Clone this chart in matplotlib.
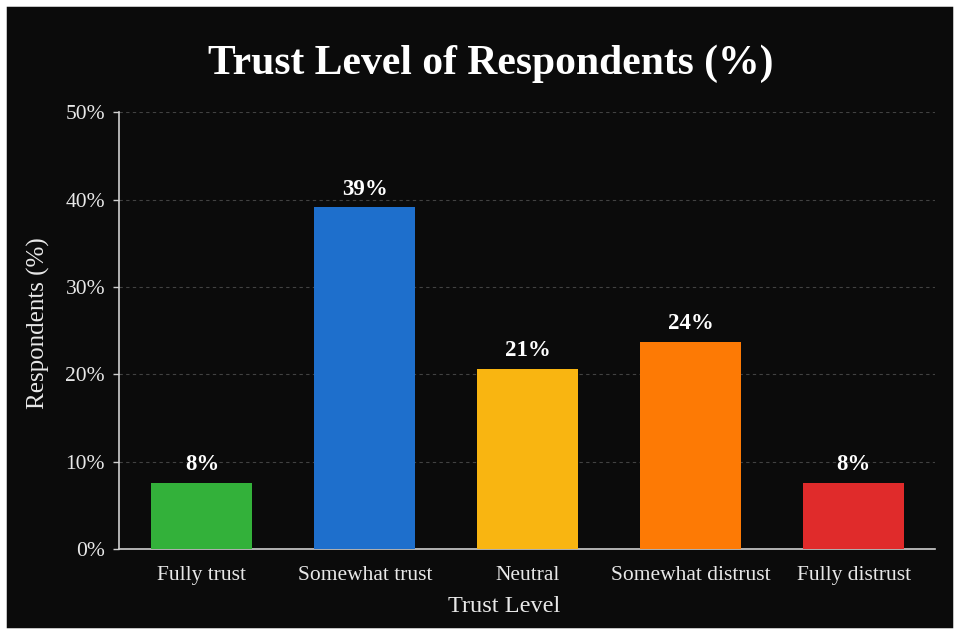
import matplotlib
matplotlib.use("Agg")
import matplotlib.pyplot as plt
from matplotlib.patches import Rectangle

# data
categories = ["Fully trust", "Somewhat trust", "Neutral", "Somewhat distrust", "Fully distrust"]
values = [7.6, 39.1, 20.6, 23.7, 7.6]
colors = ["#33b13a", "#1e6fcc", "#f9b511", "#fd7a05", "#e02b2b"]
yticks = [0, 10, 20, 30, 40, 50]

BG = "#0b0b0b"
FG = "#e8e8e8"
FONT = ["Liberation Serif", "DejaVu Serif"]

plt.rcParams["font.family"] = FONT

fig = plt.figure(figsize=(9.59, 6.34), dpi=100, facecolor=BG)
# thin white frame round the dark panel
fig.patches.append(Rectangle((0, 0), 1, 1, transform=fig.transFigure,
                             fill=False, edgecolor="white", linewidth=9,
                             zorder=10))

ax = fig.add_axes([0.124, 0.134, 0.851, 0.689])
ax.set_facecolor(BG)

x = list(range(len(categories)))
bars = ax.bar(x, values, width=0.62, color=colors, zorder=3)
for b, v in zip(bars, values):
    ax.text(b.get_x() + b.get_width() / 2, v + 0.9, f"{v:.0f}%",
            ha="center", va="bottom", color="white", fontsize=16.5,
            fontweight="bold", zorder=4)

ax.set_xlim(-0.51, 4.5)
ax.set_ylim(0, 50)
ax.set_yticks(yticks)
ax.set_yticklabels([f"{t}%" for t in yticks])
ax.set_xticks(x)
ax.set_xticklabels(categories)

ax.tick_params(axis="y", colors="#cfcfcf", labelsize=15.5, length=4, width=1,
               labelcolor=FG, pad=6)
ax.tick_params(axis="x", length=0, labelsize=15.5, labelcolor=FG, pad=12)

ax.grid(axis="y", color="#555555", linestyle=(0, (3, 3)), linewidth=0.8,
        alpha=0.75, zorder=0)
for s in ["top", "right"]:
    ax.spines[s].set_visible(False)
for s in ["left", "bottom"]:
    ax.spines[s].set_color("#cfcfcf")
    ax.spines[s].set_linewidth(1.2)

ax.set_xlabel("Trust Level", color=FG, fontsize=17.5)
ax.xaxis.set_label_coords(0.472, -0.107)
ax.set_ylabel("Respondents (%)", color=FG, fontsize=18)
ax.yaxis.set_label_coords(-0.085, 0.517)

fig.text(0.512, 0.9, "Trust Level of Respondents (%)", ha="center",
         va="center", color="white", fontsize=30, fontweight="bold")

fig.savefig("out.png", dpi=100, facecolor=fig.get_facecolor())
